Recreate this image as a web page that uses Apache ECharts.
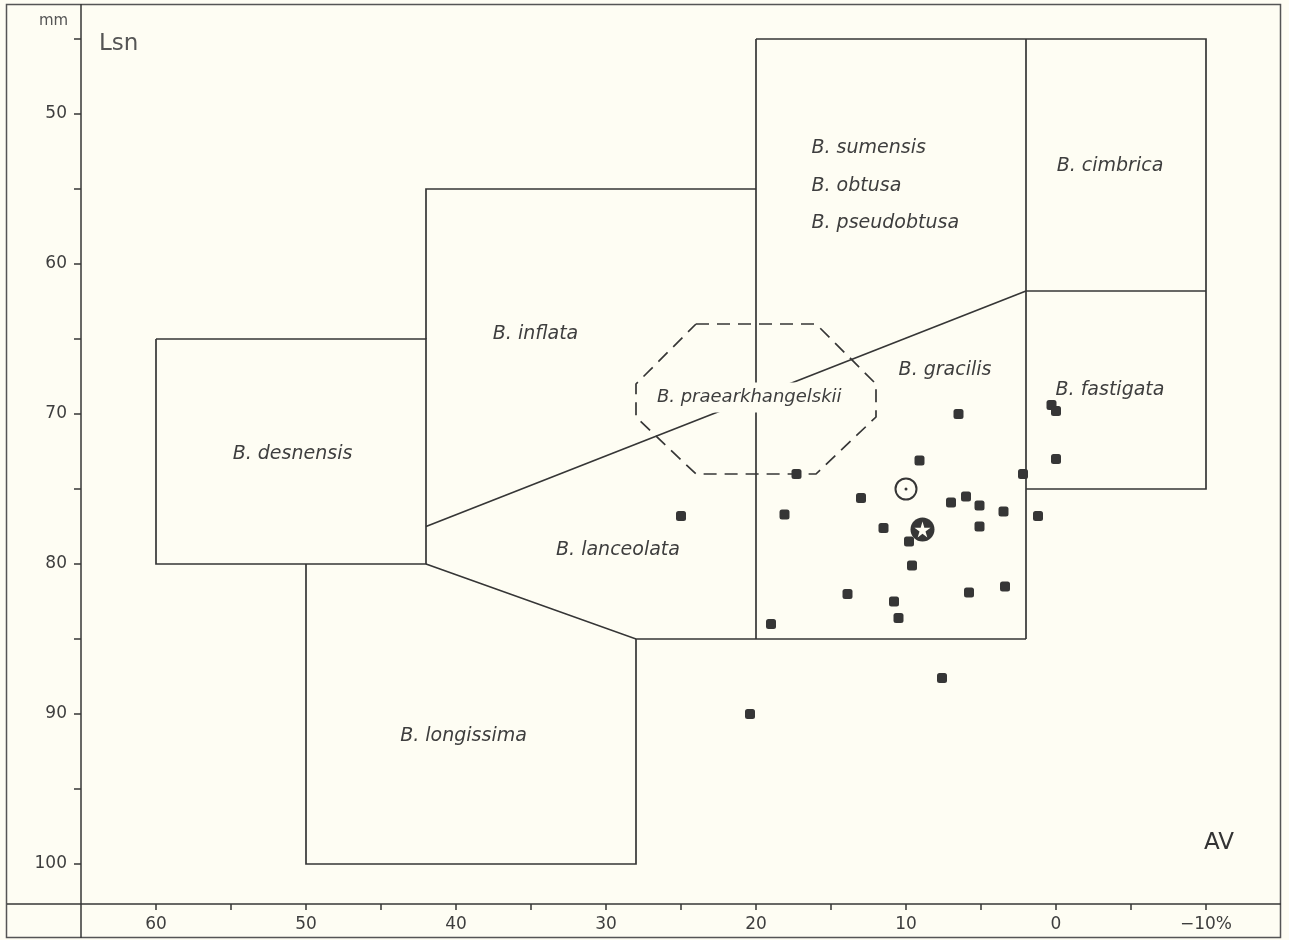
<!DOCTYPE html>
<html>
<head>
<meta charset="utf-8">
<script src="https://cdn.jsdelivr.net/npm/echarts@6/dist/echarts.min.js"></script>
<style>
  html, body { margin: 0; padding: 0; background: #fefdf3; }
  #chart { width: 1289px; height: 940px; }
</style>
</head>
<body>
<div id="chart"></div>
<script>
// Axis ticks and labels (AV in %, Lsn in mm)
const avTicks = [60, 55, 50, 45, 40, 35, 30, 25, 20, 15, 10, 5, 0, -5, -10];
const avLabels = [60, 50, 40, 30, 20, 10, 0, -10];
const lsnTicks = [45, 50, 55, 60, 65, 70, 75, 80, 85, 90, 95, 100];
const lsnLabels = [50, 60, 70, 80, 90, 100];

// Field boundaries, as [AV, Lsn] polylines
const fieldBoundaries = [
  [[60, 65], [42, 65], [42, 80], [60, 80], [60, 65]],
  [[42, 65], [42, 55], [20, 55]],
  [[42, 80], [28, 85], [2, 85]],
  [[50, 80], [50, 100], [28, 100], [28, 85]],
  [[20, 45], [20, 85]],
  [[20, 45], [-10, 45], [-10, 75], [2, 75]],
  [[2, 45], [2, 85]],
  [[2, 61.8], [-10, 61.8]],
  [[42, 77.5], [2, 61.8]]
];

// Dashed field of B. praearkhangelskii
const praearkhangelskiiField = [
  [24, 64], [16, 64], [12, 68], [12, 70.2], [16, 74], [24, 74], [28, 70.2], [28, 68], [24, 64]
];

// Field names and where they are written
const taxonNames = ['B. desnensis', 'B. inflata', 'B. lanceolata', 'B. longissima', 'B. gracilis', 'B. cimbrica', 'B. fastigata'];
const taxonAV    = [50.9, 34.7, 29.2, 39.5, 7.4, -3.6, -3.6];
const taxonLsn   = [72.7, 64.7, 79.1, 91.5, 67.1, 53.5, 68.4];

const groupNames = ['B. sumensis', 'B. obtusa', 'B. pseudobtusa'];
const groupAV    = [16.3, 16.3, 16.3];
const groupLsn   = [52.3, 54.8, 57.3];

// Measured specimens
const specimenAV  = [25.0, 18.1, 17.3, 19.0, 20.4, 6.5, 9.1, 13.0, 6.0, 7.0, 5.1, 3.5, 2.2, 1.2, 5.1, 11.5, 9.8, 9.6, 13.9, 5.8, 3.4, 10.8, 10.5, 7.6, 0.0, 0.3, 0.0];
const specimenLsn = [76.8, 76.7, 74.0, 84.0, 90.0, 70.0, 73.1, 75.6, 75.5, 75.9, 76.1, 76.5, 74.0, 76.8, 77.5, 77.6, 78.5, 80.1, 82.0, 81.9, 81.5, 82.5, 83.6, 87.6, 73.0, 69.4, 69.8];

// Marked specimens: open circle and star
const circleSpecimen = [10.0, 75.0];
const starSpecimen = [8.9, 77.7];

const ink = '#363636';
const textInk = '#3e3e3e';
const paper = '#fefdf3';
const starPath = 'path://M50,0 L61,35 L98,35 L68,57 L79,91 L50,70 L21,91 L32,57 L2,35 L39,35 Z';

const chart = echarts.init(document.getElementById('chart'), null, { renderer: 'canvas' });

const labelFont = {
  fontFamily: 'DejaVu Sans',
  fontStyle: 'italic',
  fontSize: 19,
  color: textInk
};

// scatter series default to 0.8 opacity; every mark here is solid ink
function solidScatter(extra) {
  return Object.assign({
    type: 'scatter',
    silent: true,
    zlevel: 1
  }, extra, {
    itemStyle: Object.assign({ opacity: 1 }, extra.itemStyle || {})
  });
}

chart.setOption({
  backgroundColor: paper,
  animation: false,
  grid: {
    left: 81, top: 4, width: 1200, height: 900,
    containLabel: false,
    outerBoundsMode: 'none'
  },
  xAxis: {
    type: 'value',
    inverse: true,
    min: -15,
    max: 65,
    axisLine: { show: false, onZero: false },
    splitLine: { show: false },
    axisTick: {
      show: true, inside: false, length: 6,
      customValues: avTicks,
      lineStyle: { color: ink, width: 1.5 }
    },
    axisLabel: {
      show: true, margin: 12,
      customValues: avLabels,
      fontFamily: 'DejaVu Sans', fontSize: 17, color: textInk,
      formatter: v => (v < 0 ? '\u2212' + Math.abs(v) + '%' : String(v))
    }
  },
  yAxis: {
    type: 'value',
    inverse: true,
    min: 42.6667,
    max: 102.6667,
    axisLine: { show: false, onZero: false },
    splitLine: { show: false },
    axisTick: {
      show: true, inside: false, length: 7,
      customValues: lsnTicks,
      lineStyle: { color: ink, width: 1.5 }
    },
    axisLabel: {
      show: true, margin: 14,
      customValues: lsnLabels,
      fontFamily: 'DejaVu Sans', fontSize: 17, color: textInk
    }
  },
  graphic: [
    { type: 'rect', shape: { x: 6.5, y: 4.5, width: 1274, height: 933 }, style: { fill: null, stroke: '#555', lineWidth: 1.5 }, silent: true, z: 1 },
    { type: 'line', shape: { x1: 81, y1: 4, x2: 81, y2: 938 }, style: { stroke: ink, lineWidth: 1.5 }, silent: true, z: 1 },
    { type: 'line', shape: { x1: 7, y1: 904, x2: 1281, y2: 904 }, style: { stroke: ink, lineWidth: 1.5 }, silent: true, z: 1 },
    { type: 'text', left: 39, top: 14, style: { text: 'mm', font: '15px "DejaVu Sans"', fill: '#555' }, z: 3 },
    { type: 'text', left: 99, top: 33, style: { text: 'Lsn', font: '23px "DejaVu Sans"', fill: '#555' }, z: 3 },
    { type: 'text', left: 1204, top: 832, style: { text: 'AV', font: '23px "DejaVu Sans"', fill: '#333' }, z: 3 }
  ],
  series: [
    {
      type: 'lines',
      coordinateSystem: 'cartesian2d',
      polyline: true,
      silent: true,
      zlevel: 0,
      z: 2,
      lineStyle: { color: ink, width: 1.7, opacity: 1 },
      data: fieldBoundaries.map(p => ({ coords: p }))
    },
    {
      type: 'lines',
      coordinateSystem: 'cartesian2d',
      polyline: true,
      silent: true,
      zlevel: 0,
      z: 2,
      lineStyle: { color: ink, width: 1.7, opacity: 1, type: [13, 8] },
      data: [{ coords: praearkhangelskiiField }]
    },
    solidScatter({
      z: 4,
      symbol: 'roundRect',
      symbolSize: 10,
      itemStyle: { color: ink },
      data: specimenAV.map((v, i) => [v, specimenLsn[i]])
    }),
    solidScatter({
      z: 4,
      symbol: 'circle',
      symbolSize: 21,
      itemStyle: { color: paper, borderColor: ink, borderWidth: 2 },
      data: [circleSpecimen]
    }),
    solidScatter({
      z: 5,
      symbol: 'circle',
      symbolSize: 3,
      itemStyle: { color: ink },
      data: [circleSpecimen]
    }),
    solidScatter({
      z: 4,
      symbol: 'circle',
      symbolSize: 24,
      itemStyle: { color: ink },
      data: [starSpecimen]
    }),
    solidScatter({
      z: 5,
      symbol: starPath,
      symbolSize: 16,
      itemStyle: { color: paper },
      data: [starSpecimen]
    }),
    solidScatter({
      z: 6,
      symbolSize: 0,
      label: { show: true, position: 'inside', formatter: '{b}', ...labelFont },
      data: taxonNames.map((n, i) => ({ name: n, value: [taxonAV[i], taxonLsn[i]] }))
    }),
    solidScatter({
      z: 6,
      symbolSize: 0,
      label: { show: true, position: 'right', distance: 0, formatter: '{b}', ...labelFont },
      data: groupNames.map((n, i) => ({ name: n, value: [groupAV[i], groupLsn[i]] }))
    }),
    solidScatter({
      z: 6,
      symbolSize: 0,
      label: {
        show: true, position: 'inside', formatter: '{b}', ...labelFont,
        fontSize: 18,
        backgroundColor: paper, padding: [6, 4, 6, 4]
      },
      data: [{ name: 'B. praearkhangelskii', value: [20.45, 68.9] }]
    })
  ]
});
</script>
</body>
</html>
